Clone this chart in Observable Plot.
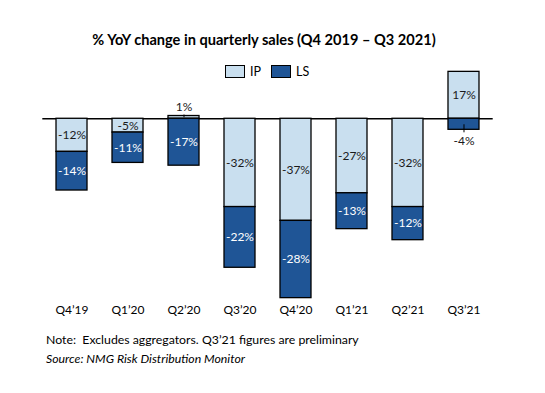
<!DOCTYPE html>
<html>
<head>
<meta charset="utf-8">
<script src="https://cdn.jsdelivr.net/npm/d3@7"></script>
<script src="https://cdn.jsdelivr.net/npm/@observablehq/plot@0.6"></script>
<style>
  html, body { margin: 0; padding: 0; background: #fff; }
  #wrap { position: relative; width: 545px; height: 393px; font-family: Lato, "Open Sans", sans-serif; color: #000; overflow: hidden; }
  #title { position: absolute; left: 0; width: 528px; top: 31px; text-align: center; font-weight: bold; font-size: 14.6px; line-height: 18px; }
  #chart { position: absolute; left: 0; top: 60px; }
  #legend { position: absolute; left: 225px; top: 65px; font-size: 12.5px; line-height: 13px; z-index: 2; }
  .item { position: absolute; top: 0; white-space: nowrap; }
  .sw { position: absolute; top: 0; width: 18px; height: 11px; border: 1px solid #000; }
  .lab { position: absolute; top: 0; }
  #note { position: absolute; left: 46px; top: 332px; font-size: 12.3px; line-height: 16px; white-space: pre; }
  #source { position: absolute; left: 46px; top: 351px; font-size: 12.3px; line-height: 16px; font-style: italic; white-space: pre; }
</style>
</head>
<body>
<div id="wrap">
  <div id="title"></div>
  <div id="chart"></div>
  <div id="legend"></div>
  <div id="note"></div>
  <div id="source"></div>
</div>
<script>
const titleText = "% YoY change in quarterly sales (Q4 2019 \u2013 Q3 2021)";
const noteText = "Note:  Excludes aggregators. Q3\u201921 figures are preliminary";
const sourceText = "Source: NMG Risk Distribution Monitor";

const quarters = ["Q4\u201919", "Q1\u201920", "Q2\u201920", "Q3\u201920", "Q4\u201920", "Q1\u201921", "Q2\u201921", "Q3\u201921"];
const seriesNames = ["IP", "LS"];
const seriesColors = ["#C9DFEF", "#1F5596"];
const labelColors = ["#1a1a1a", "#ffffff"];
const ipValues = [-12, -5, 1, -32, -37, -27, -32, 17];
const lsValues = [-14, -11, -17, -22, -28, -13, -12, -4];

const rows = quarters.flatMap((q, i) => [
  {quarter: q, series: "IP", value: ipValues[i]},
  {quarter: q, series: "LS", value: lsValues[i]}
]);

document.getElementById("title").textContent = titleText;
document.getElementById("note").textContent = noteText;
document.getElementById("source").textContent = sourceText;

const legend = document.getElementById("legend");
const legendOffsets = [0, 46];
seriesNames.forEach((s, i) => {
  const item = document.createElement("div");
  item.className = "item";
  item.style.left = legendOffsets[i] + "px";
  const sw = document.createElement("div");
  sw.className = "sw";
  sw.style.background = seriesColors[i];
  const lab = document.createElement("div");
  lab.className = "lab";
  lab.style.left = "25px";
  lab.textContent = s;
  item.appendChild(sw);
  item.appendChild(lab);
  legend.appendChild(item);
});

const fmt = d => `${d.value}%`;
const small = d => Math.abs(d.value) < 5;
const stackOpts = {x: "quarter", y: "value"};
const colorOf = d => labelColors[seriesNames.indexOf(d.series)];

const chart = Plot.plot({
  width: 545,
  height: 270.4,
  marginLeft: 42.3,
  marginRight: 52.3,
  marginTop: 8.6,
  marginBottom: 30,
  style: {background: "transparent", fontFamily: "Lato, sans-serif", fontSize: "12px", color: "#000", overflow: "visible"},
  x: {domain: quarters, paddingInner: 0.44, paddingOuter: 0.22, label: null, tickSize: 0, tickPadding: 5},
  y: {domain: [-66, 18], axis: null},
  color: {domain: seriesNames, range: seriesColors},
  marks: [
    Plot.ruleY([0], {stroke: "#000", strokeWidth: 1.3}),
    Plot.barY(rows, {...stackOpts, fill: "series", stroke: "#000", strokeWidth: 1.3}),
    Plot.text(rows, Plot.filter(d => !small(d), Plot.stackY({...stackOpts, text: fmt, fill: colorOf, fontSize: 12}))),
    Plot.ruleX(rows, Plot.filter(d => small(d) && d.value > 0, Plot.stackY({...stackOpts, stroke: "#000", strokeWidth: 1, dy: -1}))),
    Plot.ruleX(rows, Plot.filter(d => small(d) && d.value < 0, Plot.stackY({...stackOpts, stroke: "#000", strokeWidth: 1, dy: 3, insetTop: 3}))),
    Plot.text(rows, Plot.filter(d => small(d) && d.value > 0, Plot.stackY2({...stackOpts, text: fmt, fill: "#1a1a1a", fontSize: 12, dy: -9}))),
    Plot.text(rows, Plot.filter(d => small(d) && d.value < 0, Plot.stackY2({...stackOpts, text: fmt, fill: "#1a1a1a", fontSize: 12, dy: 11.5})))
  ]
});
document.getElementById("chart").appendChild(chart);
</script>
</body>
</html>
